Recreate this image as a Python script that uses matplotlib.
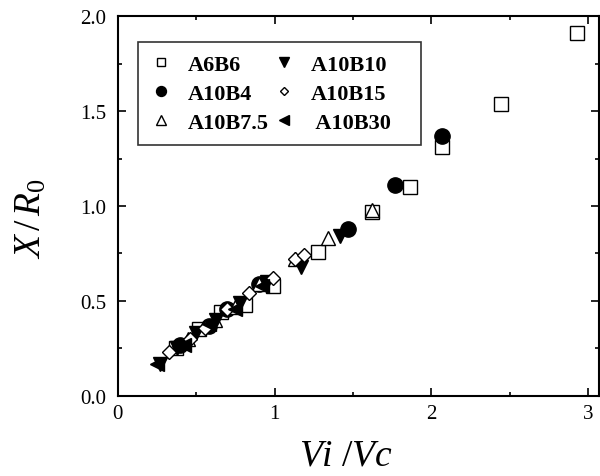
import matplotlib
matplotlib.use("Agg")
import matplotlib.pyplot as plt
from matplotlib.ticker import MultipleLocator

plt.rcParams['font.family'] = ['Liberation Serif', 'DejaVu Serif']
plt.rcParams['mathtext.fontset'] = 'custom'
plt.rcParams['mathtext.rm'] = 'Liberation Serif'
plt.rcParams['mathtext.it'] = 'Liberation Serif:italic'

# Vi/Vc vs X/R0 for each sample
a6b6_x = [0.37, 0.52, 0.66, 0.81, 0.99, 1.28, 1.62, 1.86, 2.07, 2.44, 2.93]
a6b6_y = [0.25, 0.35, 0.44, 0.48, 0.58, 0.76, 0.97, 1.10, 1.31, 1.54, 1.91]

a10b4_x = [0.40, 0.58, 0.70, 0.90, 1.47, 1.77, 2.07]
a10b4_y = [0.27, 0.37, 0.46, 0.59, 0.88, 1.11, 1.37]

a10b75_x = [0.45, 0.62, 0.75, 0.90, 1.13, 1.34, 1.62]
a10b75_y = [0.30, 0.40, 0.47, 0.59, 0.72, 0.83, 0.98]

a10b10_x = [0.27, 0.38, 0.50, 0.63, 0.78, 0.95, 1.17, 1.42]
a10b10_y = [0.17, 0.25, 0.33, 0.40, 0.49, 0.60, 0.68, 0.84]

a10b15_x = [0.33, 0.46, 0.56, 0.70, 0.84, 0.99, 1.13, 1.19]
a10b15_y = [0.23, 0.30, 0.36, 0.46, 0.54, 0.62, 0.72, 0.74]

a10b30_x = [0.25, 0.42, 0.58, 0.75, 0.92]
a10b30_y = [0.17, 0.27, 0.38, 0.46, 0.58]

fig = plt.figure(figsize=(6.0, 4.77), dpi=100)
ax = fig.add_axes([0.196, 0.168, 0.803, 0.796])

ax.plot(a6b6_x, a6b6_y, ls='none', marker='s', ms=9.5, mfc='white', mec='black', mew=1, label='A6B6')
ax.plot(a10b4_x, a10b4_y, ls='none', marker='o', ms=11, mfc='black', mec='black', mew=1, label='A10B4')
ax.plot(a10b75_x, a10b75_y, ls='none', marker='^', ms=10, mfc='white', mec='black', mew=1, label='A10B7.5')
ax.plot(a10b10_x, a10b10_y, ls='none', marker='v', ms=10, mfc='black', mec='black', mew=1, label='A10B10\u2003')
ax.plot(a10b15_x, a10b15_y, ls='none', marker='D', ms=7, mfc='white', mec='black', mew=1, label='A10B15')
ax.plot(a10b30_x, a10b30_y, ls='none', marker='<', ms=10, mfc='black', mec='black', mew=1, label=' A10B30')

ax.set_xlim(0, 3.07)
ax.set_ylim(0, 2.0)
ax.xaxis.set_major_locator(MultipleLocator(1))
ax.xaxis.set_minor_locator(MultipleLocator(0.5))
ax.yaxis.set_major_locator(MultipleLocator(0.5))
ax.yaxis.set_minor_locator(MultipleLocator(0.25))
ax.set_yticks([0, 0.5, 1.0, 1.5, 2.0])
ax.set_yticklabels(['0.0', '0.5', '1.0', '1.5', '2.0'])

ax.tick_params(which='both', direction='in', top=True, right=True, width=1.2, labelsize=15)
ax.tick_params(which='major', length=6)
ax.tick_params(which='minor', length=3)
ax.tick_params(axis='x', pad=6)
ax.tick_params(axis='y', pad=8)
for sp in ax.spines.values():
    sp.set_linewidth(1.5)

ax.set_xlabel(r'$Vi\ /Vc$', fontsize=27)
ax.set_ylabel(r'$X\,/\,R_0$', fontsize=27)
ax.xaxis.set_label_coords(0.475, -0.112)
ax.yaxis.set_label_coords(-0.143, 0.47)

leg = ax.legend(ncol=2, loc='upper left', bbox_to_anchor=(0.042, 0.932), borderaxespad=0,
                frameon=True, fancybox=False, edgecolor='black', markerscale=0.65,
                prop={'weight': 'bold', 'size': 16}, handletextpad=0.7, columnspacing=0.2,
                labelspacing=0.38, handlelength=1.0, borderpad=0.55)
leg.get_frame().set_linewidth(1.2)

fig.savefig('out.png', dpi=100)
